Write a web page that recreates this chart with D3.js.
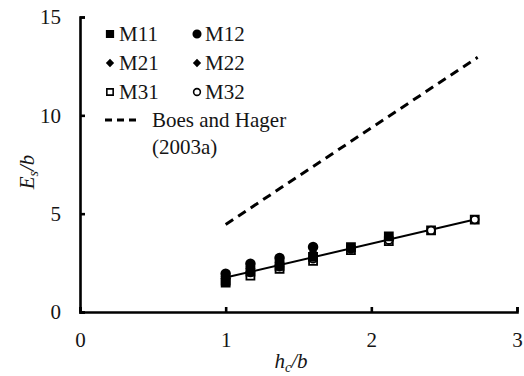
<!DOCTYPE html>
<html>
<head>
<meta charset="utf-8">
<script src="https://cdn.jsdelivr.net/npm/d3@7"></script>
<style>
  body { margin: 0; background: #fff; }
  svg text { font-family: "Liberation Serif", "Times New Roman", serif; fill: #151515; }
</style>
</head>
<body>
<div id="chart"></div>
<script>
// data
const xTicks = [0, 1, 2, 3];
const yTicks = [0, 5, 10, 15];
const hcb = [1.0, 1.17, 1.37, 1.6, 1.86, 2.12, 2.41, 2.71];
const M11 = [1.5, 2.05, 2.35, 2.8, 3.3, 3.85, null, null];
const M12 = [1.95, 2.45, 2.75, 3.3, null, null, null, null];
const M21 = [1.8, 2.3, 2.6, 3.0, null, null, null, null];
const M22 = [1.7, 2.2, 2.5, 2.9, null, null, null, null];
const M31 = [1.6, 1.85, 2.2, 2.6, 3.15, 3.6, 4.15, 4.7];
const M32 = [1.7, 2.0, 2.3, 2.7, 3.2, 3.65, 4.15, 4.7];
const fitX = [1.0, 2.71];
const fitY = [1.75, 4.7];
const boesX = [1.0, 2.73];
const boesY = [4.45, 12.95];

const W = 524, H = 376;
const margin = { top: 17, right: 7, bottom: 64, left: 80 };
const width = W - margin.left - margin.right;
const height = H - margin.top - margin.bottom;
const serif = "Liberation Serif, Times New Roman, serif";
const fs = 21;

const svg = d3.select("#chart").append("svg")
    .attr("width", W)
    .attr("height", H)
    .attr("font-family", serif);
const g = svg.append("g")
    .attr("transform", "translate(" + margin.left + "," + margin.top + ")");

const x = d3.scaleLinear().domain([0, 3]).range([0, width]);
const y = d3.scaleLinear().domain([0, 15]).range([height, 0]);

// axes, ticks pointing inward
const xAxis = g.append("g")
    .attr("transform", "translate(0," + height + ")")
    .call(d3.axisBottom(x).tickValues(xTicks).tickFormat(d3.format("d")).tickSize(-5).tickPadding(20));
const yAxis = g.append("g")
    .call(d3.axisLeft(y).tickValues(yTicks).tickFormat(d3.format("d")).tickSize(-5).tickPadding(19));
[xAxis, yAxis].forEach(a => {
    a.attr("font-family", serif).attr("font-size", fs);
    a.select(".domain").attr("stroke", "#000").attr("stroke-width", 2.6);
    a.selectAll(".tick line").attr("stroke", "#000").attr("stroke-width", 2.6);
    a.selectAll(".tick text").attr("fill", "#222");
});

// Boes and Hager dashed line
const line = d3.line().x(d => x(d[0])).y(d => y(d[1]));
g.append("path")
    .attr("d", line(d3.zip(boesX, boesY)))
    .attr("fill", "none")
    .attr("stroke", "#000")
    .attr("stroke-width", 3)
    .attr("stroke-dasharray", "9,6");

// fitted line
g.append("path")
    .attr("d", line(d3.zip(fitX, fitY)))
    .attr("fill", "none")
    .attr("stroke", "#000")
    .attr("stroke-width", 2);

// markers (diamonds = squares turned 45deg)
const series = [
    { name: "M31", vals: M31, sym: d3.symbolSquare, size: 64, fill: "#fff", rot: 0 },
    { name: "M32", vals: M32, sym: d3.symbolCircle, size: 45, fill: "#fff", rot: 0 },
    { name: "M22", vals: M22, sym: d3.symbolSquare, size: 30, fill: "#000", rot: 45 },
    { name: "M21", vals: M21, sym: d3.symbolSquare, size: 30, fill: "#000", rot: 45 },
    { name: "M11", vals: M11, sym: d3.symbolSquare, size: 64, fill: "#000", rot: 0 },
    { name: "M12", vals: M12, sym: d3.symbolCircle, size: 60, fill: "#000", rot: 0 }
];
series.forEach(s => {
    const pts = hcb.map((v, i) => [v, s.vals[i]]).filter(p => p[1] != null);
    g.selectAll(".pt-" + s.name)
        .data(pts)
        .enter()
        .append("path")
        .attr("class", "pt-" + s.name)
        .attr("transform", d => "translate(" + x(d[0]) + "," + y(d[1]) + ") rotate(" + s.rot + ")")
        .attr("d", d3.symbol().type(s.sym).size(s.size))
        .attr("fill", s.fill)
        .attr("stroke", "#000")
        .attr("stroke-width", 1.8);
});

// legend
const legend = svg.append("g").attr("font-size", fs);
const legendItems = [
    { name: "M11", sym: d3.symbolSquare, size: 44, fill: "#000", rot: 0, col: 0, row: 0 },
    { name: "M12", sym: d3.symbolCircle, size: 44, fill: "#000", rot: 0, col: 1, row: 0 },
    { name: "M21", sym: d3.symbolSquare, size: 18, fill: "#000", rot: 45, col: 0, row: 1 },
    { name: "M22", sym: d3.symbolSquare, size: 18, fill: "#000", rot: 45, col: 1, row: 1 },
    { name: "M31", sym: d3.symbolSquare, size: 40, fill: "#fff", rot: 0, col: 0, row: 2 },
    { name: "M32", sym: d3.symbolCircle, size: 36, fill: "#fff", rot: 0, col: 1, row: 2 }
];
const markX = [110, 197];
const textX = [119, 205];
const rowY = [34, 63, 92];
legendItems.forEach(it => {
    legend.append("path")
        .attr("transform", "translate(" + markX[it.col] + "," + rowY[it.row] + ") rotate(" + it.rot + ")")
        .attr("d", d3.symbol().type(it.sym).size(it.size))
        .attr("fill", it.fill)
        .attr("stroke", "#000")
        .attr("stroke-width", 1.6);
    legend.append("text")
        .attr("x", textX[it.col])
        .attr("y", rowY[it.row] + 7)
        .text(it.name);
});
legend.append("line")
    .attr("x1", 105).attr("x2", 138)
    .attr("y1", 120).attr("y2", 120)
    .attr("stroke", "#000")
    .attr("stroke-width", 3)
    .attr("stroke-dasharray", "7,5");
legend.append("text").attr("x", 152).attr("y", 127).text("Boes and Hager");
legend.append("text").attr("x", 152).attr("y", 154).text("(2003a)");

// axis titles
const yt = svg.append("text")
    .attr("transform", "translate(34,172) rotate(-90)")
    .attr("text-anchor", "middle")
    .attr("font-size", fs)
    .attr("font-style", "italic");
yt.append("tspan").text("E");
yt.append("tspan").attr("font-size", 14).attr("dy", 4).text("s");
yt.append("tspan").attr("dy", -4).text("/b");

const xt = svg.append("text")
    .attr("x", 291)
    .attr("y", 368)
    .attr("text-anchor", "middle")
    .attr("font-size", fs)
    .attr("font-style", "italic");
xt.append("tspan").text("h");
xt.append("tspan").attr("font-size", 14).attr("dy", 4).text("c");
xt.append("tspan").attr("dy", -4).text("/b");
</script>
</body>
</html>
